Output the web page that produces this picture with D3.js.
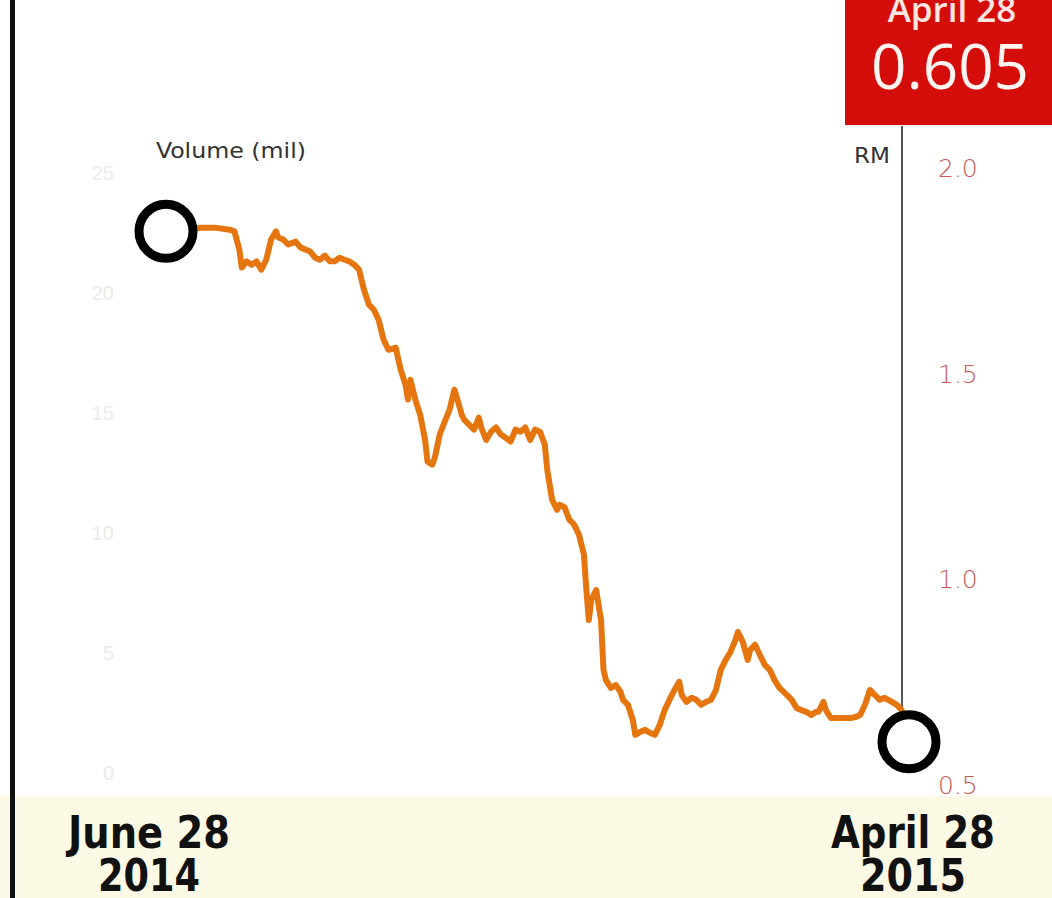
<!DOCTYPE html>
<html>
<head>
<meta charset="utf-8">
<script src="https://cdn.jsdelivr.net/npm/d3@7"></script>
<style>
  body { margin: 0; background: #fff; }
  svg { display: block; }
</style>
</head>
<body>
<div id="chart"></div>
<script>
const w = 1052;
const h = 898;

// days since June 28 2014, closing price in RM
const days = [0,14,20,26,28,30,31,33,35,37,39,41,43,45,46,48,50,53,55,57,59,61,63,65,67,69,71,73,75,77,79,
  81,83,85,87,89,91,94,96,98,99,100,102,104,106,107,109,110,112,114,116,118,119,121,122,124,126,128,129,
  131,133,135,137,139,141,143,145,147,149,151,153,155,156,158,160,161,163,165,167,169,171,172,173,174,176,
  178,179,180,182,184,186,187,189,191,192,194,196,198,200,202,204,206,208,210,211,213,215,217,219,221,223,
  225,227,229,231,233,234,236,238,239,241,243,245,247,249,251,254,256,258,260,262,264,266,267,269,270,272,
  274,276,278,280,282,284,286,288,290,292,294,297,299,301,304];
const prices = [1.846,1.855,1.855,1.850,1.846,1.802,1.758,1.773,1.765,1.773,1.753,1.777,1.826,1.846,1.831,
  1.826,1.814,1.821,1.807,1.802,1.797,1.782,1.777,1.787,1.773,1.773,1.782,1.777,1.773,1.765,1.753,
  1.704,1.668,1.656,1.631,1.583,1.558,1.563,1.510,1.473,1.437,1.485,1.437,1.400,1.339,1.286,1.279,1.296,
  1.352,1.383,1.412,1.461,1.442,1.400,1.388,1.376,1.364,1.393,1.369,1.339,1.359,1.369,1.352,1.344,1.335,
  1.364,1.359,1.369,1.339,1.364,1.359,1.327,1.266,1.193,1.169,1.181,1.176,1.145,1.133,1.108,1.060,0.974,
  0.901,0.950,0.974,0.901,0.780,0.755,0.736,0.743,0.726,0.707,0.695,0.658,0.622,0.629,0.634,0.627,0.622,
  0.646,0.682,0.707,0.731,0.751,0.719,0.702,0.712,0.707,0.695,0.702,0.707,0.731,0.780,0.804,0.824,0.853,
  0.872,0.848,0.804,0.828,0.841,0.816,0.792,0.780,0.755,0.736,0.719,0.707,0.687,0.682,0.678,0.670,0.678,
  0.678,0.702,0.682,0.663,0.663,0.663,0.663,0.663,0.665,0.670,0.695,0.731,0.719,0.707,0.712,0.702,0.695,
  0.682,0.605];

const priceTicks = [0.5, 1.0, 1.5, 2.0];
const volumeTicks = [0, 5, 10, 15, 20, 25];
const startLabel = ["June 28", "2014"];
const endLabel = ["April 28", "2015"];
const lastLabel = "April 28";
const lastValue = "0.605";

const startDate = new Date(2014, 5, 28);
const endDate = new Date(2015, 3, 28);
const data = days.map((d, i) => ({date: d3.timeDay.offset(startDate, d), value: prices[i]}));

const svg = d3.select("#chart")
  .append("svg")
  .attr("width", w)
  .attr("height", h);

const x = d3.scaleTime()
  .domain([startDate, endDate])
  .range([166, 909]);

const y = d3.scaleLinear()
  .domain([0.5, 2.0])
  .range([785, 168]);

const yVol = d3.scaleLinear()
  .domain([0, 25])
  .range([773, 173]);

// bottom band
svg.append("rect")
  .attr("x", 0).attr("y", 796)
  .attr("width", w).attr("height", h - 796)
  .attr("fill", "#fcf9e4");

// left border
svg.append("rect")
  .attr("x", 10).attr("y", 0)
  .attr("width", 5).attr("height", h)
  .attr("fill", "#111");

// ghost volume labels
svg.append("g")
  .selectAll("text")
  .data(volumeTicks)
  .enter()
  .append("text")
  .attr("x", 114)
  .attr("y", d => yVol(d) + 7)
  .attr("text-anchor", "end")
  .attr("font-family", "Liberation Sans, sans-serif")
  .attr("font-size", 20)
  .attr("fill", "#ebebeb")
  .text(d => d);

svg.append("text")
  .attr("x", 156)
  .attr("y", 158)
  .attr("font-family", "Liberation Sans Narrow, DejaVu Sans Condensed, sans-serif")
  .attr("font-size", 21)
  .attr("textLength", 150)
  .attr("lengthAdjust", "spacingAndGlyphs")
  .attr("fill", "#333")
  .text("Volume (mil)");

// right price axis
svg.append("line")
  .attr("x1", 902).attr("x2", 902)
  .attr("y1", 126).attr("y2", 712)
  .attr("stroke", "#555")
  .attr("stroke-width", 2);

svg.append("text")
  .attr("x", 854)
  .attr("y", 163)
  .attr("font-family", "Liberation Sans Narrow, DejaVu Sans Condensed, sans-serif")
  .attr("font-size", 21)
  .attr("textLength", 36)
  .attr("lengthAdjust", "spacingAndGlyphs")
  .attr("fill", "#333")
  .text("RM");

svg.append("g")
  .selectAll("text")
  .data(priceTicks)
  .enter()
  .append("text")
  .attr("x", 938)
  .attr("y", d => y(d) + 9)
  .attr("font-family", "DejaVu Sans, sans-serif")
  .attr("font-weight", 300)
  .attr("font-size", 25)
  .attr("fill", "#cc5852")
  .text(d => d.toFixed(1));

// price line
const line = d3.line()
  .x(d => x(d.date))
  .y(d => y(d.value));

svg.append("path")
  .datum(data)
  .attr("d", line)
  .attr("fill", "none")
  .attr("stroke", "#e5760f")
  .attr("stroke-width", 6)
  .attr("stroke-linejoin", "round");

// end markers
svg.selectAll("circle.marker")
  .data([data[0], data[data.length - 1]])
  .enter()
  .append("circle")
  .attr("class", "marker")
  .attr("cx", d => x(d.date))
  .attr("cy", d => y(d.value))
  .attr("r", 27)
  .attr("fill", "#fff")
  .attr("stroke", "#000")
  .attr("stroke-width", 9);

// red callout box
svg.append("rect")
  .attr("x", 845).attr("y", 0)
  .attr("width", w - 845).attr("height", 125)
  .attr("fill", "#d50d0a");

svg.append("text")
  .attr("x", 952)
  .attr("y", 22)
  .attr("text-anchor", "middle")
  .attr("font-family", "Open Sans, sans-serif")
  .attr("font-weight", 600)
  .attr("font-size", 35)
  .attr("fill", "#ffe6e0")
  .text(lastLabel);

svg.append("text")
  .attr("x", 950)
  .attr("y", 89)
  .attr("text-anchor", "middle")
  .attr("font-family", "Open Sans, sans-serif")
  .attr("font-size", 62)
  .attr("fill", "#fff4f0")
  .text(lastValue);

// date labels
function dateLabel(lines, cx, widths) {
  const g = svg.append("g");
  lines.forEach((t, i) => {
    g.append("text")
      .attr("x", cx)
      .attr("y", 848 + i * 43)
      .attr("text-anchor", "middle")
      .attr("font-family", "Liberation Sans Narrow, DejaVu Sans Condensed, sans-serif")
      .attr("font-weight", "bold")
      .attr("font-size", 44)
      .attr("textLength", widths[i])
      .attr("lengthAdjust", "spacingAndGlyphs")
      .attr("fill", "#111")
      .text(t);
  });
}
dateLabel(startLabel, x(startDate) - 17, [162, 102]);
dateLabel(endLabel, x(endDate) + 4, [164, 106]);
</script>
</body>
</html>
